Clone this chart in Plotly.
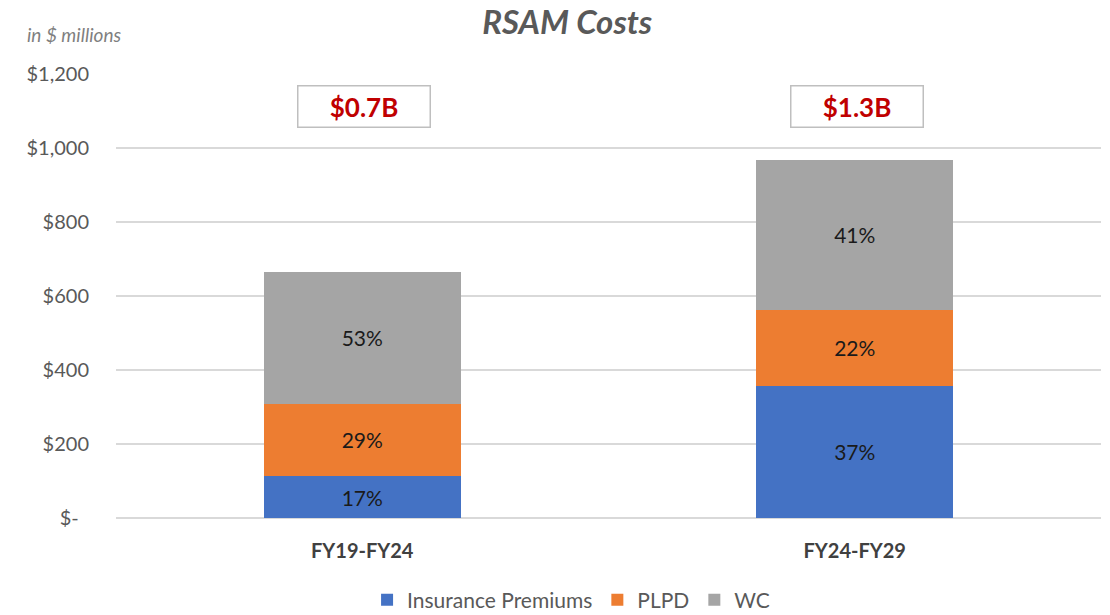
import plotly.graph_objects as go

categories = ["FY19-FY24", "FY24-FY29"]
insurance = [113, 357]
plpd = [196, 206]
wc = [356, 405]
insurance_lbl = ["17%", "37%"]
plpd_lbl = ["29%", "22%"]
wc_lbl = ["53%", "41%"]
totals_lbl = ["$0.7B", "$1.3B"]
tick_vals = [0, 200, 400, 600, 800, 1000, 1200]
tick_text = ["$-\u00a0\u00a0", "$200", "$400", "$600", "$800", "$1,000", "$1,200"]

FONT = "Lato, Carlito, Calibri, sans-serif"
series = [
    ("Insurance Premiums", insurance, insurance_lbl, "#4472C4"),
    ("PLPD", plpd, plpd_lbl, "#ED7D31"),
    ("WC", wc, wc_lbl, "#A5A5A5"),
]

fig = go.Figure()
for name, vals, lbls, col in series:
    fig.add_trace(go.Bar(
        name=name, x=categories, y=vals, text=lbls,
        texttemplate="%{text}", textposition="inside", insidetextanchor="middle",
        textfont=dict(family=FONT, size=21, color="#1a1a1a"),
        marker=dict(color=col, line=dict(width=0)),
        width=0.4, constraintext="none", hoverinfo="skip",
    ))

for cat, lbl in zip(categories, totals_lbl):
    fig.add_annotation(
        x=cat, y=1112, xref="x", yref="y", text="<b>" + lbl + "</b>",
        showarrow=False, font=dict(family=FONT, size=26, color="#C00000"),
        bordercolor="#BFBFBF", borderwidth=1.5, borderpad=1,
        width=129, height=38, bgcolor="white", xshift=2,
    )

fig.add_annotation(
    xref="paper", yref="paper", x=-0.092, y=1.0 + (74 - 35) / 444,
    text="<i>in $ millions</i>", showarrow=False,
    xanchor="left", yanchor="middle",
    font=dict(family=FONT, size=19, color="#7F7F7F"),
)

fig.update_layout(
    width=1110, height=615,
    margin=dict(l=116, r=9, t=74, b=97, autoexpand=False),
    paper_bgcolor="white", plot_bgcolor="white",
    barmode="stack", bargap=0.6,
    title=dict(text="<b><i>RSAM Costs</i></b>", x=0.511, xanchor="center",
               xref="container", yref="container",
               y=1 - 22 / 615, yanchor="middle",
               font=dict(family=FONT, size=33, color="#595959")),
    font=dict(family=FONT, color="#595959"),
    xaxis=dict(showgrid=False, showline=False, ticks="", ticklabelstandoff=19,
               tickfont=dict(family=FONT, size=20, color="#404040"),
               tickprefix="<b>", ticksuffix="</b>"),
    yaxis=dict(range=[0, 1200], tickvals=tick_vals, ticktext=tick_text,
               showgrid=True, gridcolor="#D9D9D9", gridwidth=1.5,
               zeroline=True, zerolinecolor="#D9D9D9", zerolinewidth=1.5,
               showline=False, ticks="", ticklabelstandoff=26,
               tickfont=dict(family=FONT, size=20, color="#595959")),
    legend=dict(orientation="h", x=0.462, xanchor="center", y=-0.185,
                yanchor="middle", traceorder="normal",
                font=dict(family=FONT, size=21, color="#595959"),
                itemwidth=30),
    showlegend=True,
)

fig.write_html("out.html", config={"displayModeBar": False},
               post_script="document.body.style.margin='0';")
